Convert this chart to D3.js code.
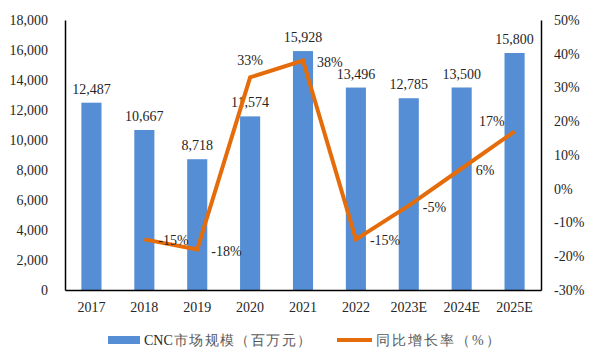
<!DOCTYPE html>
<html><head><meta charset="utf-8">
<script src="https://cdn.jsdelivr.net/npm/d3@7"></script>
<style>body{margin:0;background:#fff}svg{display:block}</style>
</head><body><svg id="c" width="592" height="363"></svg>
<script>
const categories = ["2017","2018","2019","2020","2021","2022","2023E","2024E","2025E"];
const marketSize = [12487,10667,8718,11574,15928,13496,12785,13500,15800];
const growth = [null,-15,-18,33,38,-15,-5,6,17];
const leftTicks = [0,2000,4000,6000,8000,10000,12000,14000,16000,18000];
const rightTicks = [-30,-20,-10,0,10,20,30,40,50];
const growthLabelSide = [null,"right","right","above","right","right","right","right","left"];
const legendLatin = ["CNC",""];
const legendCjk = ["市场规模（百万元）","同比增长率（%）"];

const svg = d3.select("#c");
const font = "'Liberation Serif','Times New Roman',serif";
const m = {l:65, r:541, t:20, b:290};
const blue = "#558ED5", orange = "#E46C0A", txt = "#262626";

const x = d3.scaleBand().domain(categories).range([m.l, m.r]).paddingInner(0.62).paddingOuter(0.31);
const yL = d3.scaleLinear().domain([0,18000]).range([m.b, m.t]);
const yR = d3.scaleLinear().domain([-30,50]).range([m.b, m.t]);
const fmt = d3.format(",");

// bars
svg.append("g").selectAll("rect").data(marketSize).join("rect")
  .attr("x",(d,i)=>x(categories[i])).attr("width",x.bandwidth())
  .attr("y",d=>yL(d)).attr("height",d=>yL(0)-yL(d)).attr("fill",blue);

// axes
const gl = svg.append("g").attr("transform",`translate(${m.l},0)`)
  .call(d3.axisLeft(yL).tickValues(leftTicks).tickFormat(fmt).tickSize(0).tickPadding(17));
const gr = svg.append("g").attr("transform",`translate(${m.r},0)`)
  .call(d3.axisRight(yR).tickValues(rightTicks).tickFormat(d=>d+"%").tickSize(0).tickPadding(13));
const gb = svg.append("g").attr("transform",`translate(0,${m.b})`)
  .call(d3.axisBottom(x).tickSize(0).tickPadding(12));
[gl,gr,gb].forEach(g=>{
  g.select(".domain").attr("stroke","#000").attr("stroke-width",1.5);
  g.selectAll("text").attr("font-family",font).attr("font-size",14).attr("fill",txt);
});

// bar labels
svg.append("g").selectAll("text").data(marketSize).join("text")
  .attr("x",(d,i)=>x(categories[i])+x.bandwidth()/2).attr("y",d=>yL(d)-9)
  .attr("text-anchor","middle").attr("font-family",font).attr("font-size",14).attr("fill",txt)
  .text(d=>fmt(d));

// line
const pts = growth.map((g,i)=>({c:categories[i],g,side:growthLabelSide[i]})).filter(d=>d.g!==null);
const line = d3.line().x(d=>x(d.c)+x.bandwidth()/2).y(d=>yR(d.g));
svg.append("path").datum(pts).attr("d",line).attr("fill","none")
  .attr("stroke",orange).attr("stroke-width",4).attr("stroke-linejoin","miter");

svg.append("g").selectAll("text").data(pts).join("text")
  .attr("x",d=>{const cx=x(d.c)+x.bandwidth()/2; return d.side==="right"?cx+14:d.side==="left"?cx-10:cx;})
  .attr("y",d=>{const cy=yR(d.g); return d.side==="above"?cy-12:d.side==="left"?cy-5:cy+6;})
  .attr("text-anchor",d=>d.side==="right"?"start":d.side==="left"?"end":"middle")
  .attr("font-family",font).attr("font-size",14).attr("fill",txt)
  .text(d=>d.g+"%");

// legend
const lg = svg.append("g");
lg.append("rect").attr("x",108).attr("y",336).attr("width",32).attr("height",8).attr("fill",blue);
const t1 = lg.append("text").attr("x",144).attr("y",345).attr("font-family",font).attr("font-size",14);
t1.append("tspan").attr("fill","#262626").text(legendLatin[0]);
t1.append("tspan").attr("fill","#595959").attr("letter-spacing",1.4).attr("dx",1).text(legendCjk[0]);
lg.append("line").attr("x1",337).attr("x2",372).attr("y1",340).attr("y2",340).attr("stroke",orange).attr("stroke-width",4);
lg.append("text").attr("x",376).attr("y",345).attr("font-family",font).attr("font-size",14)
  .attr("fill","#595959").attr("letter-spacing",2).text(legendLatin[1]+legendCjk[1]);
</script></body></html>
